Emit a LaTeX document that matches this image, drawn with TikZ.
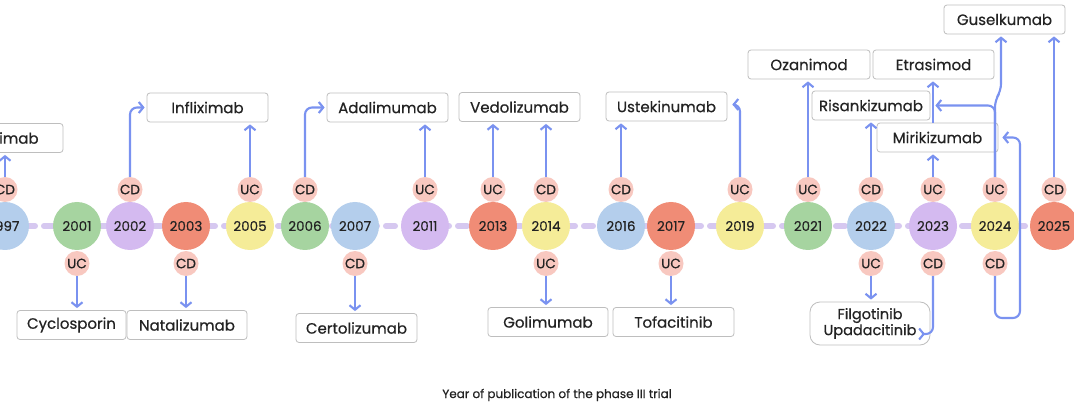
\documentclass[tikz,border=0pt]{standalone}
\usepackage{fontspec}
\setmainfont{Poppins}[FakeBold=0.5]
\usetikzlibrary{arrows.meta}
\definecolor{cblue}{RGB}{180,206,236}
\definecolor{cgreen}{RGB}{166,212,160}
\definecolor{cpurple}{RGB}{212,186,240}
\definecolor{cred}{RGB}{240,140,118}
\definecolor{cyellow}{RGB}{245,236,152}
\definecolor{cpink}{RGB}{248,200,192}
\definecolor{carrow}{RGB}{122,146,240}
\definecolor{cline}{RGB}{214,200,240}
\definecolor{cbox}{RGB}{190,190,190}
\definecolor{ctext}{RGB}{35,35,35}
\begin{document}
\begin{tikzpicture}[x=1pt,y=-1pt,
  year/.style={circle, fill=#1, minimum size=48pt, inner sep=0pt, text=ctext, font=\fontsize{13.5}{15}\selectfont},
  badge/.style={circle, fill=cpink, minimum size=25pt, inner sep=0pt, text=ctext, font=\fontsize{13.5}{15}\selectfont},
  drug/.style={draw=cbox, fill=white, line width=0.8pt, rounded corners=3pt, minimum height=29pt, inner sep=2pt, text=ctext, font=\fontsize{15}{18}\selectfont},
  arr/.style={draw=carrow, line width=2.1pt, rounded corners=7pt, shorten >=2pt, -{Straight Barb[length=4.5pt,width=11pt]}},
  tline/.style={draw=cline, line width=6pt, line cap=round, dash pattern=on 9pt off 9pt}
]
\useasboundingbox (0,0) rectangle (1074,406);
\fill[white] (0,0) rectangle (1074,406);

% timeline
\draw[tline] (-10,226) -- (1090,226);

% badges above (u) and below (d)
\foreach \nm/\xx/\lab in {1997/5/CD,2002/130/CD,2005/250/UC,2006/305/CD,2011/425/UC,2013/493/UC,2014/546/CD,2016/621/CD,2019/740/UC,2021/808/UC,2022/871/CD,2023/933/UC,2024/995/UC,2025/1054/CD}
  {\node[badge] (u\nm) at (\xx,189.5) {\lab};}
\foreach \nm/\xx/\lab in {2001/77/UC,2003/186/CD,2007/355/CD,2014/546/UC,2017/671/UC,2022/871/UC,2023/933/CD,2024/995/CD}
  {\node[badge] (d\nm) at (\xx,263.5) {\lab};}

% year circles
\foreach \nm/\xx/\cc in {1997/5/cblue,2001/77/cgreen,2002/130/cpurple,2003/186/cred,2005/250/cyellow,2006/305/cgreen,2007/355/cblue,2011/425/cpurple,2013/493/cred,2014/546/cyellow,2016/621/cblue,2017/671/cred,2019/740/cyellow,2021/808/cgreen,2022/871/cblue,2023/933/cpurple,2024/995/cyellow,2025/1054/cred}
  {\node[year=\cc] (y\nm) at (\xx,226) {\nm};}

% drug boxes
\node[drug, minimum width=121pt] (infl0) at (2.5,138) {Infliximab};
\node[drug, minimum width=121pt] (infl) at (207.5,107.5) {Infliximab};
\node[drug, minimum width=109pt] (cyclo) at (71.5,325) {Cyclosporin};
\node[drug, minimum width=120pt] (nata) at (187,325) {Natalizumab};
\node[drug, minimum width=121pt] (adal) at (387.5,107.5) {Adalimumab};
\node[drug, minimum width=121pt] (certo) at (356.5,328) {Certolizumab};
\node[drug, minimum width=121pt] (vedo) at (519.5,107) {Vedolizumab};
\node[drug, minimum width=120pt] (goli) at (548,322) {Golimumab};
\node[drug, minimum width=121pt] (uste) at (666.5,106.5) {Ustekinumab};
\node[drug, minimum width=121pt] (tofa) at (673.5,322) {Tofacitinib};
\node[drug, minimum width=122pt] (ozan) at (809,64.5) {Ozanimod};
\node[drug, minimum width=121pt] (etra) at (933.5,64.5) {Etrasimod};
\node[drug, minimum width=118pt] (risa) at (871,105.5) {Risankizumab};
\node[drug, minimum width=121pt] (miri) at (937.5,137.5) {Mirikizumab};
\node[drug, minimum width=121pt] (guse) at (1004.5,19.5) {Guselkumab};
\node[drug, minimum width=120pt, minimum height=43pt, rounded corners=10pt, align=center, inner sep=1pt, font=\fontsize{14.5}{16}\selectfont] (filg) at (870,323.5) {Filgotinib\\Upadacitinib};

% straight arrows
\draw[arr] (u1997) -- (infl0.south -| u1997);
\draw[arr] (u2005) -- (infl.south -| u2005);
\draw[arr] (u2011) -- (adal.south -| u2011);
\draw[arr] (u2013) -- (vedo.south -| u2013);
\draw[arr] (u2014) -- (vedo.south -| u2014);
\draw[arr] (u2016) -- (uste.south -| u2016);
\draw[arr] (u2021) -- (ozan.south -| u2021);
\draw[arr] (u2022) -- (risa.south -| u2022);
\draw[arr] (u2023) -- (miri.south -| u2023);
\draw[arr] (miri.north -| u2023) -- (etra.south -| u2023);
\draw[arr] (u2025) -- (guse.south -| u2025);
\draw[arr] (d2001) -- (cyclo.north -| d2001);
\draw[arr] (d2003) -- (nata.north -| d2003);
\draw[arr] (d2007) -- (certo.north -| d2007);
\draw[arr] (d2014) -- (goli.north -| d2014);
\draw[arr] (d2017) -- (tofa.north -| d2017);
\draw[arr] (d2022) -- (filg.north -| d2022);

% elbow arrows
\draw[arr] (u2002) |- (infl.west);
\draw[arr] (u2006) |- (adal.west);
\coordinate (usteR) at ([xshift=3pt,yshift=2pt]uste.east);
\draw[arr] (u2019) |- (usteR);
\coordinate (filgR) at (927,334);
\draw[arr] (d2023) |- (filgR);
\coordinate (risaR) at ([xshift=3pt]risa.east);
\draw[arr] (u2024) |- (risaR);
\coordinate (gA) at (995,100);
\coordinate (gB) at (1001,91);
\draw[arr] (u2024) -- (gA) -- (gB) -- (gB |- guse.south);
\coordinate (loopR) at (1020,318);
\coordinate (miriR) at ([xshift=2pt]miri.east);
\draw[arr] (d2024) |- (loopR) |- (miriR);

% caption
\node[text=ctext, font=\fontsize{12}{14}\selectfont] (cap) at (557,395) {Year of publication of the phase III trial};
\end{tikzpicture}
\end{document}
